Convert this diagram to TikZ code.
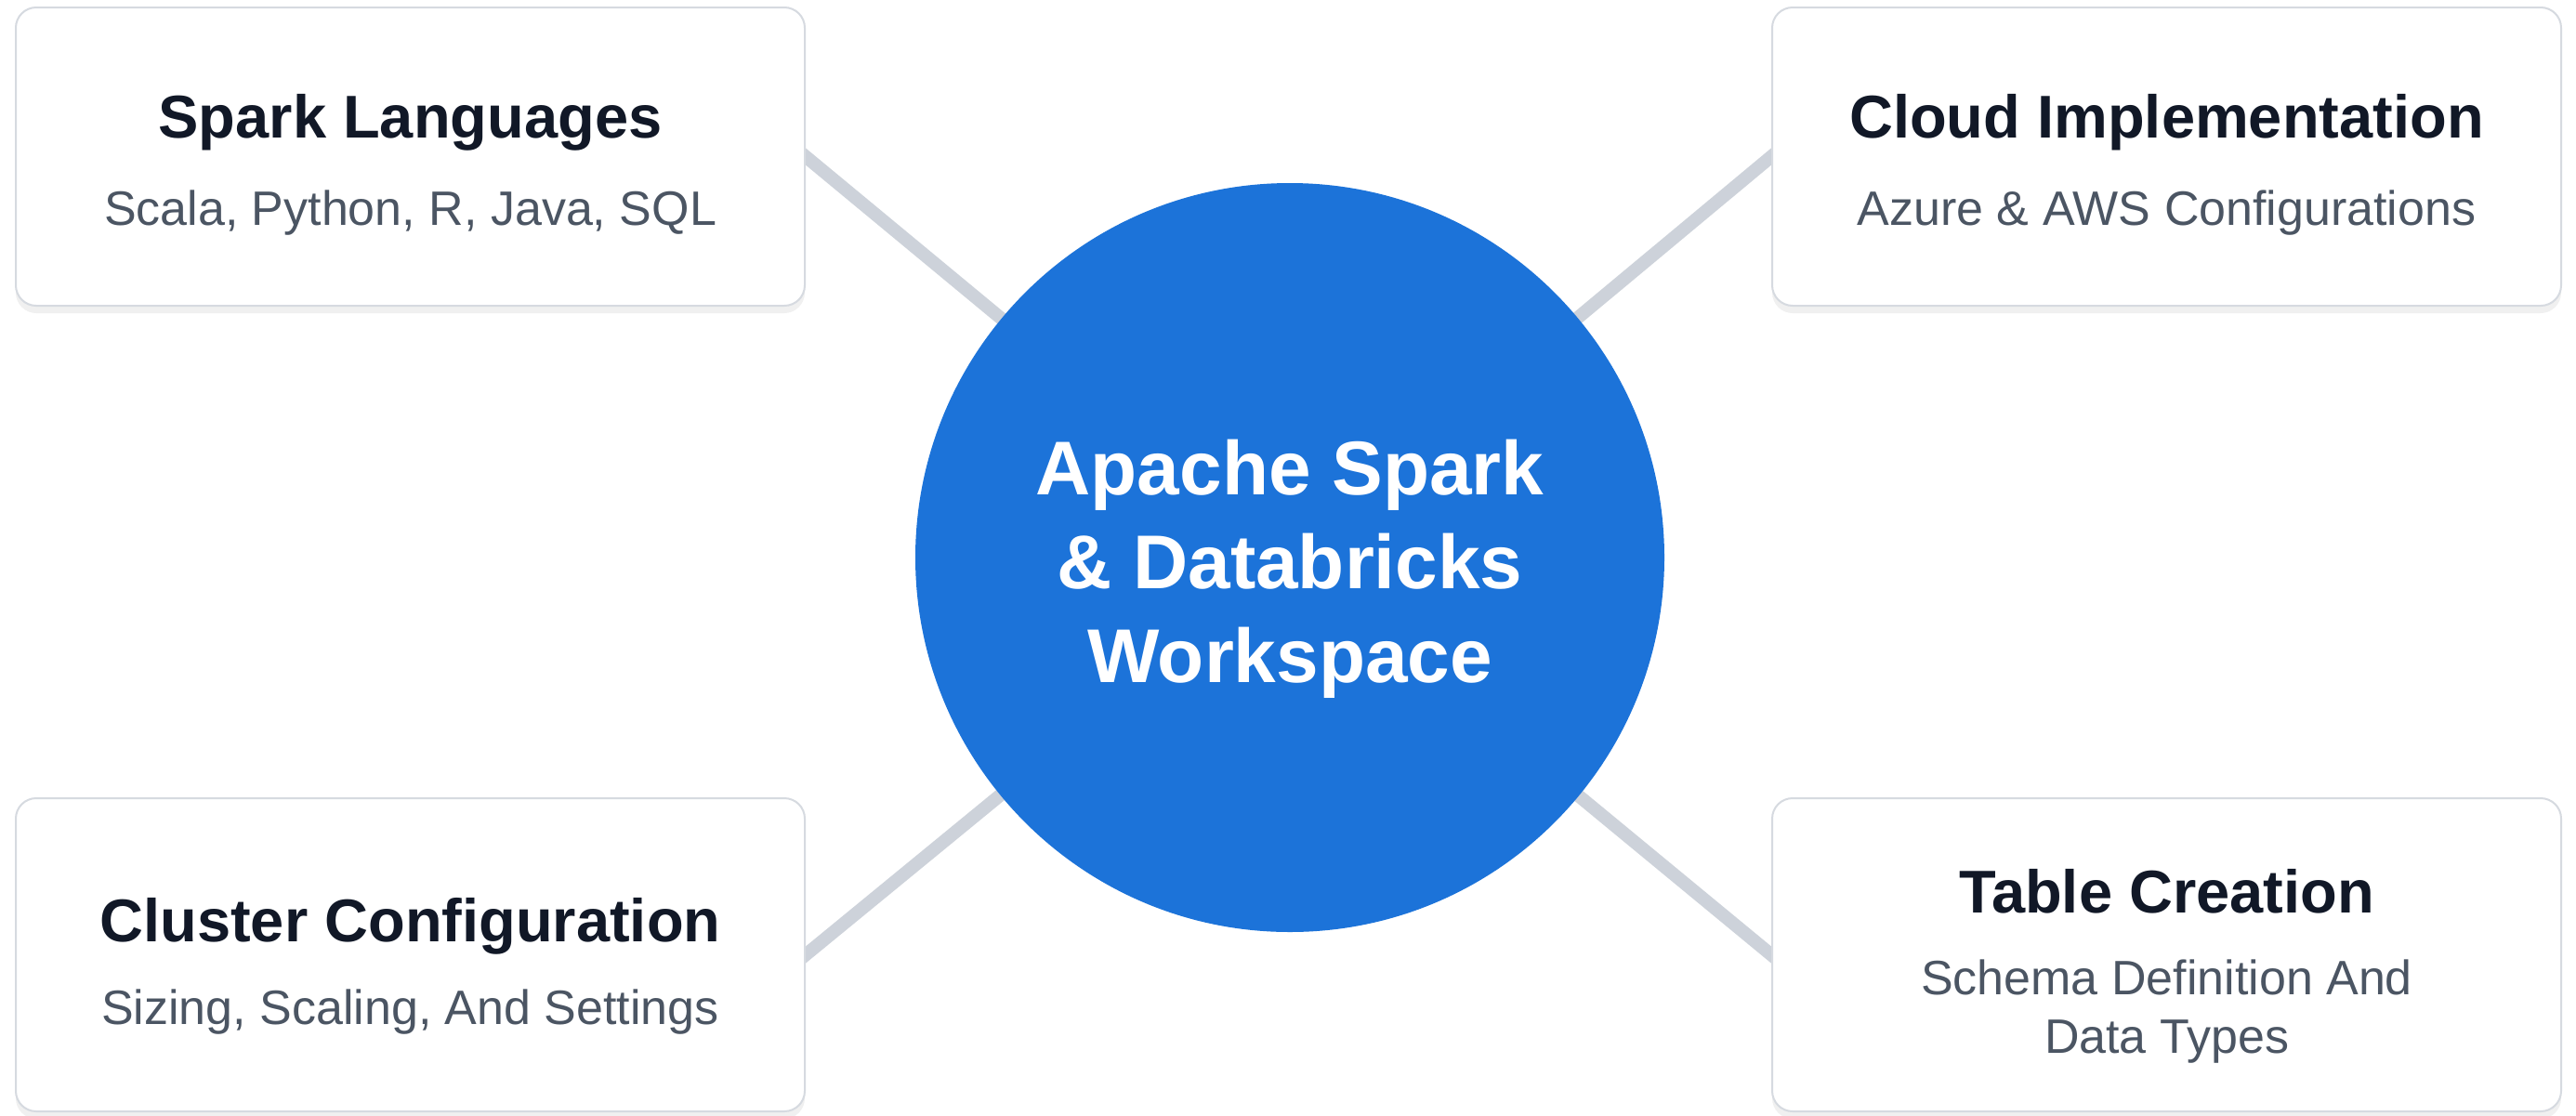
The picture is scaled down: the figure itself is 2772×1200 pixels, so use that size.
\documentclass[tikz,border=0pt]{standalone}
\usepackage{fontspec}
\setmainfont{Liberation Sans}
\usetikzlibrary{positioning}
\usetikzlibrary{shadows}
\usetikzlibrary{backgrounds}
\definecolor{hubblue}{HTML}{1C73D9}
\definecolor{linkgray}{HTML}{CDD2DA}
\definecolor{cardline}{HTML}{D6DAE0}
\definecolor{titleink}{HTML}{111827}
\definecolor{subink}{HTML}{4B5563}
\tikzset{card/.style={draw=cardline,line width=2pt,fill=white,rounded corners=22pt,
  minimum width=849pt,minimum height=321pt,inner sep=0pt,
  drop shadow={shadow xshift=0pt,shadow yshift=-8pt,opacity=0.06,fill=black}}}
\tikzset{ttl/.style={font=\fontsize{65}{78}\selectfont\bfseries,text=titleink,inner sep=0pt,anchor=base}}
\tikzset{sub/.style={font=\fontsize{52}{63}\selectfont,text=subink,inner sep=0pt,anchor=base,align=center}}
\tikzset{link/.style={draw=linkgray,line width=14pt,shorten <=-10pt}}

\begin{document}
\begin{tikzpicture}[x=1pt,y=-1pt]
\useasboundingbox (0,0) rectangle (2772,1200);

% cards
\node[card] (lang) at (441.5,168.5) {};
\node[card] (cloud) at (2331.5,168.5) {};
\node[card,minimum height=337pt] (clus) at (441.5,1027.5) {};
\node[card,minimum height=337pt] (tbl) at (2331.5,1027.5) {};

% hub
\node[circle,fill=hubblue,minimum size=806pt,inner sep=0pt] (hub) at (1388,600) {};
\node[align=center,text=white,inner sep=0pt,
  font=\fontsize{82}{101}\selectfont\bfseries] (hubT) at (1388,612)
  {Apache Spark\\\& Databricks\\Workspace};

\node[above=20pt of lang.center,ttl] (langT) {Spark Languages};
\node[below=94pt of langT.base,sub] (langS) {Scala, Python, R, Java, SQL};

\node[above=20pt of cloud.center,ttl] (cloudT) {Cloud Implementation};
\node[below=94pt of cloudT.base,sub] (cloudS) {Azure \& AWS Configurations};

\node[above=14pt of clus.center,ttl] (clusT) {Cluster Configuration};
\node[below=89pt of clusT.base,sub] (clusS) {Sizing, Scaling, And Settings};

\node[above=45pt of tbl.center,ttl] (tblT) {Table Creation};
\node[below=151pt of tblT.base,sub] (tblS) {Schema Definition And\\Data Types};

% links
\begin{scope}[on background layer]
\fill[white] (0,0) rectangle (2772,1200);
\draw[link] (lang.east) -- (hub.center);
\draw[link] (cloud.west) -- (hub.center);
\draw[link] (clus.east) -- (hub.center);
\draw[link] (tbl.west) -- (hub.center);
\end{scope}
\end{tikzpicture}
\end{document}
